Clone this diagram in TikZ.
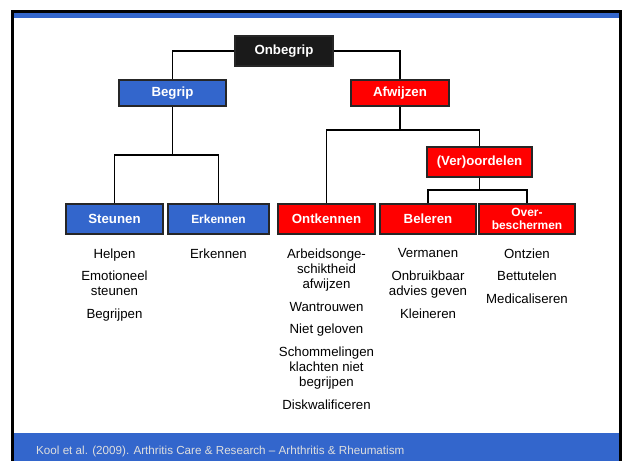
\documentclass[tikz,border=0pt]{standalone}
\usepackage{fontspec}
\setmainfont{Liberation Sans}
\usetikzlibrary{positioning}

\definecolor{slideblue}{RGB}{51,102,204}
\definecolor{boxred}{RGB}{255,0,0}
\definecolor{boxblack}{RGB}{26,26,26}
\definecolor{footgray}{RGB}{222,222,222}

\tikzset{
  box/.style={draw=black!85, line width=1.2bp, text=white, inner sep=0pt,
    minimum height=30bp, align=center,
    font=\fontsize{13.3}{14}\selectfont\bfseries},
  bluebox/.style={box, fill=slideblue},
  redbox/.style={box, fill=boxred},
  smallbox/.style={font=\fontsize{12}{12.5}\selectfont\bfseries},
  link/.style={line width=1.4bp},
  itemlist/.style={align=center, inner sep=0pt, outer sep=0pt,
    font=\fontsize{13.3}{15.2}\selectfont}
}

\begin{document}
\begin{tikzpicture}[x=1bp, y=-1bp]

\useasboundingbox (0,0) rectangle (622,461);
\fill[white] (0,0) rectangle (622,461);
\fill[slideblue] (13.5,13) rectangle (619.5,18);
\fill[slideblue] (13.5,433) rectangle (619.5,461);
\draw[line width=2.5bp] (12.3,461) -- (12.3,11.5) -- (620.7,11.5) -- (620.7,461);

\node[box, fill=boxblack, minimum width=98bp] (onbegrip) at (284,51) {Onbegrip};
\node[bluebox, minimum width=107bp, minimum height=26bp] (begrip) at (172.5,93) {Begrip};
\node[redbox, minimum width=98bp, minimum height=26bp] (afwijzen) at (400,93) {Afwijzen};
\node[redbox, minimum width=105bp] (oordelen) at (479.5,162) {(Ver)oordelen};

\node[bluebox, minimum width=97bp] (steunen) at (114.5,219) {Steunen};
\node[bluebox, smallbox, minimum width=101bp] (erkennen) at (218.5,219) {Erkennen};
\node[redbox, minimum width=97bp] (ontkennen) at (326.5,219) {Ontkennen};
\node[redbox, minimum width=96bp] (beleren) at (428,219) {Beleren};
\node[redbox, smallbox, minimum width=96bp] (overbeschermen) at (527,219) {Over-\\beschermen};

\coordinate (begripsplit) at (172.5,155);
\coordinate (afwijzensplit) at (400,130);
\coordinate (oordelensplit) at (479.5,190);

\draw[link] (onbegrip.west) -| (begrip.north);
\draw[link] (onbegrip.east) -| (afwijzen.north);
\draw[link] (begrip.south) -- (begripsplit);
\draw[link] (steunen.north) |- (begripsplit) -| (erkennen.north);
\draw[link] (afwijzen.south) -- (afwijzensplit);
\draw[link] (ontkennen.north) |- (afwijzensplit) -| (oordelen.north);
\draw[link] (oordelen.south) -- (oordelensplit);
\draw[link] (beleren.north) |- (oordelensplit) -| (overbeschermen.north);

\node[itemlist, below=14bp of steunen] (steunenlist)
  {Helpen\\[7.5bp]Emotioneel\\steunen\\[7.5bp]Begrijpen};
\node[itemlist, below=14bp of erkennen] (erkennenlist) {Erkennen};
\node[itemlist, below=14bp of ontkennen] (ontkennenlist)
  {Arbeidsonge-\\schiktheid\\afwijzen\\[7.5bp]Wantrouwen\\[7.5bp]Niet geloven\\[7.5bp]%
   Schommelingen\\klachten niet\\begrijpen\\[7.5bp]Diskwalificeren};
\node[itemlist, below=14bp of beleren] (belerenlist)
  {Vermanen\\[7.5bp]Onbruikbaar\\advies geven\\[7.5bp]Kleineren};
\node[itemlist, below=14bp of overbeschermen] (overlist)
  {Ontzien\\[7.5bp]Bettutelen\\[7.5bp]Medicaliseren};

\node[anchor=base west, inner sep=0pt, text=footgray, font=\fontsize{11.7}{13}\selectfont]
  (bron) at (36,454) {Kool et al. (2009). Arthritis Care \& Research -- Arhthritis \& Rheumatism};

\end{tikzpicture}
\end{document}
